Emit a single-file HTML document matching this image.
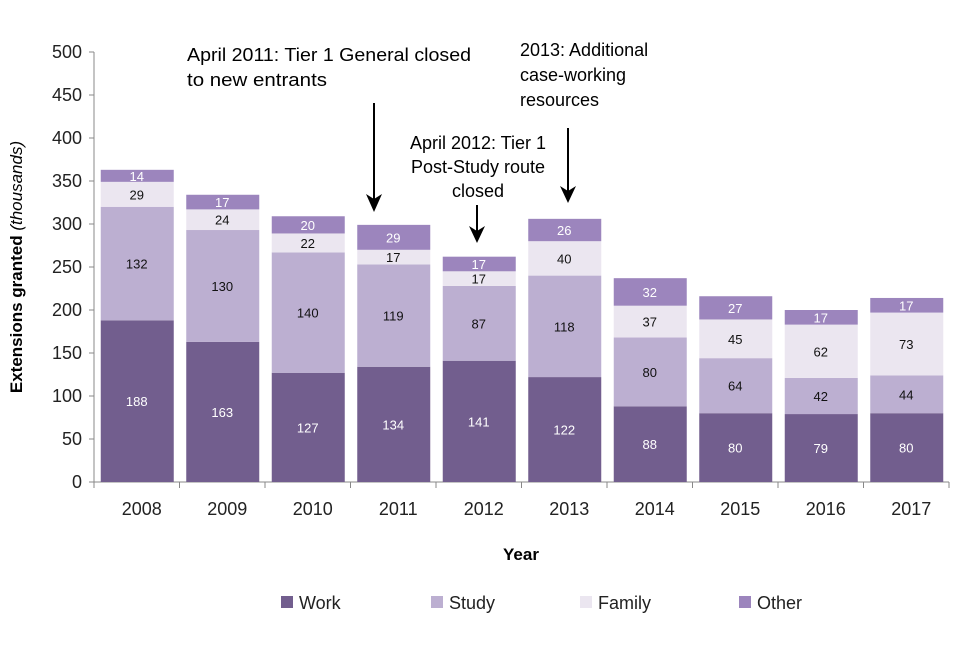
<!DOCTYPE html>
<html><head><meta charset="utf-8"><style>
body{margin:0;background:#fff;font-family:"Liberation Sans",sans-serif}
svg text{font-family:"Liberation Sans",sans-serif}
</style></head><body>
<svg width="960" height="640" id="c">
<g id="plot"></g>
<text x="22" y="267" transform="rotate(-90 22 267)" text-anchor="middle" font-size="17" font-weight="bold">Extensions granted <tspan font-style="italic" font-weight="normal">(thousands)</tspan></text>
<text x="521" y="560" text-anchor="middle" font-size="17" font-weight="bold">Year</text>
<g font-size="18">
<text x="187" y="61" textLength="284" lengthAdjust="spacingAndGlyphs">April 2011: Tier 1 General closed</text>
<text x="187" y="86" textLength="140" lengthAdjust="spacingAndGlyphs">to new entrants</text>
<line x1="374" y1="103" x2="374" y2="200" stroke="#000" stroke-width="2"/>
<polygon points="366,194 374,212 382,194 374,199" fill="#000"/>
<text x="478" y="149" text-anchor="middle">April 2012: Tier 1</text>
<text x="478" y="173" text-anchor="middle">Post-Study route</text>
<text x="478" y="197" text-anchor="middle">closed</text>
<line x1="477" y1="205" x2="477" y2="232" stroke="#000" stroke-width="2"/>
<polygon points="469,226 477,243 485,226 477,231" fill="#000"/>
<text x="520" y="56">2013: Additional</text>
<text x="520" y="81">case-working</text>
<text x="520" y="106">resources</text>
<line x1="568" y1="128" x2="568" y2="192" stroke="#000" stroke-width="2"/>
<polygon points="560,186 568,203 576,186 568,191" fill="#000"/>
</g>
<g id="legend"></g>
</svg>
<script>
const years=["2008","2009","2010","2011","2012","2013","2014","2015","2016","2017"];
const work=[188,163,127,134,141,122,88,80,79,80];
const study=[132,130,140,119,87,118,80,64,42,44];
const family=[29,24,22,17,17,40,37,45,62,73];
const other=[14,17,20,29,17,26,32,27,17,17];
const yTicks=[0,50,100,150,200,250,300,350,400,450,500];
const seriesNames=["Work","Study","Family","Other"];
const NS="http://www.w3.org/2000/svg";
const x0=94,x1=949,y0=482,y1=52;
const bw=(x1-x0)/years.length;
const yS=v=>y0-(v/500)*(y0-y1);
const xC=i=>x0+bw*(i+0.5);
const plot=document.getElementById('plot');
function mk(t,a,p){const e=document.createElementNS(NS,t);for(const k in a)e.setAttribute(k,a[k]);(p||plot).appendChild(e);return e;}
const colors=["#725e8e","#bcafd1","#ebe6f0","#9c85bd"];
const txtCol=["#fff","#111","#111","#fff"];
const series=[work,study,family,other];
let ax=mk('line',{x1:x0,y1:y1,x2:x0,y2:y0,stroke:'#888'});


let bx=mk('line',{x1:x0,y1:y0,x2:x1,y2:y0,stroke:'#888'});


yTicks.forEach(v=>{
 mk('line',{x1:x0-5,y1:yS(v),x2:x0,y2:yS(v),stroke:'#888'});
 const t=mk('text',{x:x0-12,y:yS(v)+6,'text-anchor':'end','font-size':18,fill:'#222'});
 t.textContent=v;
 
 
});
for(let i=0;i<=years.length;i++)mk('line',{x1:x0+bw*i,y1:y0,x2:x0+bw*i,y2:y0+6,stroke:'#888'});
years.forEach((yr,i)=>{
 const t=mk('text',{x:xC(i)+5,y:y0+33,'text-anchor':'middle','font-size':18,fill:'#222'});
 t.textContent=yr;
 
 
 let cum=0;
 series.forEach((s,k)=>{
  const v=s[i];const top=yS(cum+v),bot=yS(cum);
  const r=mk('rect',{x:xC(i)-36,y:top,width:73,height:bot-top,fill:colors[k]});
  
  
  const l=mk('text',{x:xC(i),y:(top+bot)/2+5,'text-anchor':'middle','font-size':13,fill:txtCol[k]});
  l.textContent=v;
  
  
  cum+=v;
 });
});
const lg=document.getElementById('legend');
const lx=[281,431,580,739];
seriesNames.forEach((n,k)=>{
 const g=mk('g',{},lg);
 
 
 mk('rect',{x:lx[k],y:596,width:12,height:12,fill:colors[k]},g);
 const t=mk('text',{x:lx[k]+18,y:609,'font-size':18,fill:'#222'},g);
 t.textContent=n;
});
</script>
</body></html>
